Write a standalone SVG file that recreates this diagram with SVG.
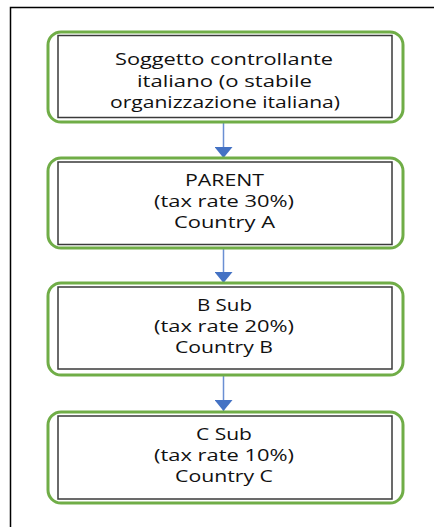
<svg xmlns="http://www.w3.org/2000/svg" width="434" height="527" viewBox="0 0 434 527">
  <style>
    .frame { fill: none; stroke: #000; stroke-width: 1.5; }
    .outer { fill: none; stroke: #70AD47; stroke-width: 3; }
    .inner { fill: #fff; stroke: #3a3a3a; stroke-width: 1.5; }
    .lbl { font-family: "Open Sans", "Lato", "Liberation Sans", sans-serif; font-size: 16.5px; fill: #111; }
    .conn { stroke: #6a8fd3; stroke-width: 1.5; fill: none; }
  </style>
  <defs>
    <marker id="ah" markerUnits="userSpaceOnUse" markerWidth="11" markerHeight="18" refX="11" refY="9" orient="auto" viewBox="0 0 11 18">
      <path d="M0,0 L11,9 L0,18 Z" fill="#4472C4"/>
    </marker>
  </defs>
  <rect width="434" height="527" fill="#fff"/>
  <path class="frame" d="M10.5,527 L10.5,7.5 L434,7.5"/>

  <g id="connectors">
    <line class="conn" x1="223.5" y1="122" x2="223.5" y2="158" marker-end="url(#ah)"/>
    <line class="conn" x1="223.5" y1="248" x2="223.5" y2="283" marker-end="url(#ah)"/>
    <line class="conn" x1="223.5" y1="375" x2="223.5" y2="411" marker-end="url(#ah)"/>
  </g>

  <g id="node-soggetto">
    <rect class="outer" x="48" y="32" width="355" height="90" rx="13"/>
    <rect class="inner" x="58" y="35.5" width="334" height="82"/>
    <text class="lbl" x="224" y="65" text-anchor="middle" textLength="218" lengthAdjust="spacingAndGlyphs">Soggetto controllante</text>
    <text class="lbl" x="224.5" y="86.5" text-anchor="middle" textLength="175" lengthAdjust="spacingAndGlyphs">italiano (o stabile</text>
    <text class="lbl" x="225" y="107.5" text-anchor="middle" textLength="230" lengthAdjust="spacingAndGlyphs">organizzazione italiana)</text>
  </g>

  <g id="node-parent">
    <rect class="outer" x="48" y="158" width="355" height="90" rx="13"/>
    <rect class="inner" x="58" y="162" width="334" height="82.5"/>
    <text class="lbl" x="224.5" y="186" text-anchor="middle" textLength="79" lengthAdjust="spacingAndGlyphs">PARENT</text>
    <text class="lbl" x="224" y="207" text-anchor="middle" textLength="140" lengthAdjust="spacingAndGlyphs">(tax rate 30%)</text>
    <text class="lbl" x="224.5" y="228" text-anchor="middle" textLength="101" lengthAdjust="spacingAndGlyphs">Country A</text>
  </g>

  <g id="node-bsub">
    <rect class="outer" x="48" y="283" width="355" height="92" rx="13"/>
    <rect class="inner" x="58" y="287" width="334" height="82"/>
    <text class="lbl" x="224.5" y="311" text-anchor="middle" textLength="55" lengthAdjust="spacingAndGlyphs">B Sub</text>
    <text class="lbl" x="224" y="332" text-anchor="middle" textLength="140" lengthAdjust="spacingAndGlyphs">(tax rate 20%)</text>
    <text class="lbl" x="224" y="353" text-anchor="middle" textLength="98" lengthAdjust="spacingAndGlyphs">Country B</text>
  </g>

  <g id="node-csub">
    <rect class="outer" x="48" y="412" width="355" height="91" rx="13"/>
    <rect class="inner" x="58" y="416" width="334" height="83"/>
    <text class="lbl" x="224" y="440" text-anchor="middle" textLength="56" lengthAdjust="spacingAndGlyphs">C Sub</text>
    <text class="lbl" x="224" y="461" text-anchor="middle" textLength="140" lengthAdjust="spacingAndGlyphs">(tax rate 10%)</text>
    <text class="lbl" x="224" y="482" text-anchor="middle" textLength="98" lengthAdjust="spacingAndGlyphs">Country C</text>
  </g>
</svg>
